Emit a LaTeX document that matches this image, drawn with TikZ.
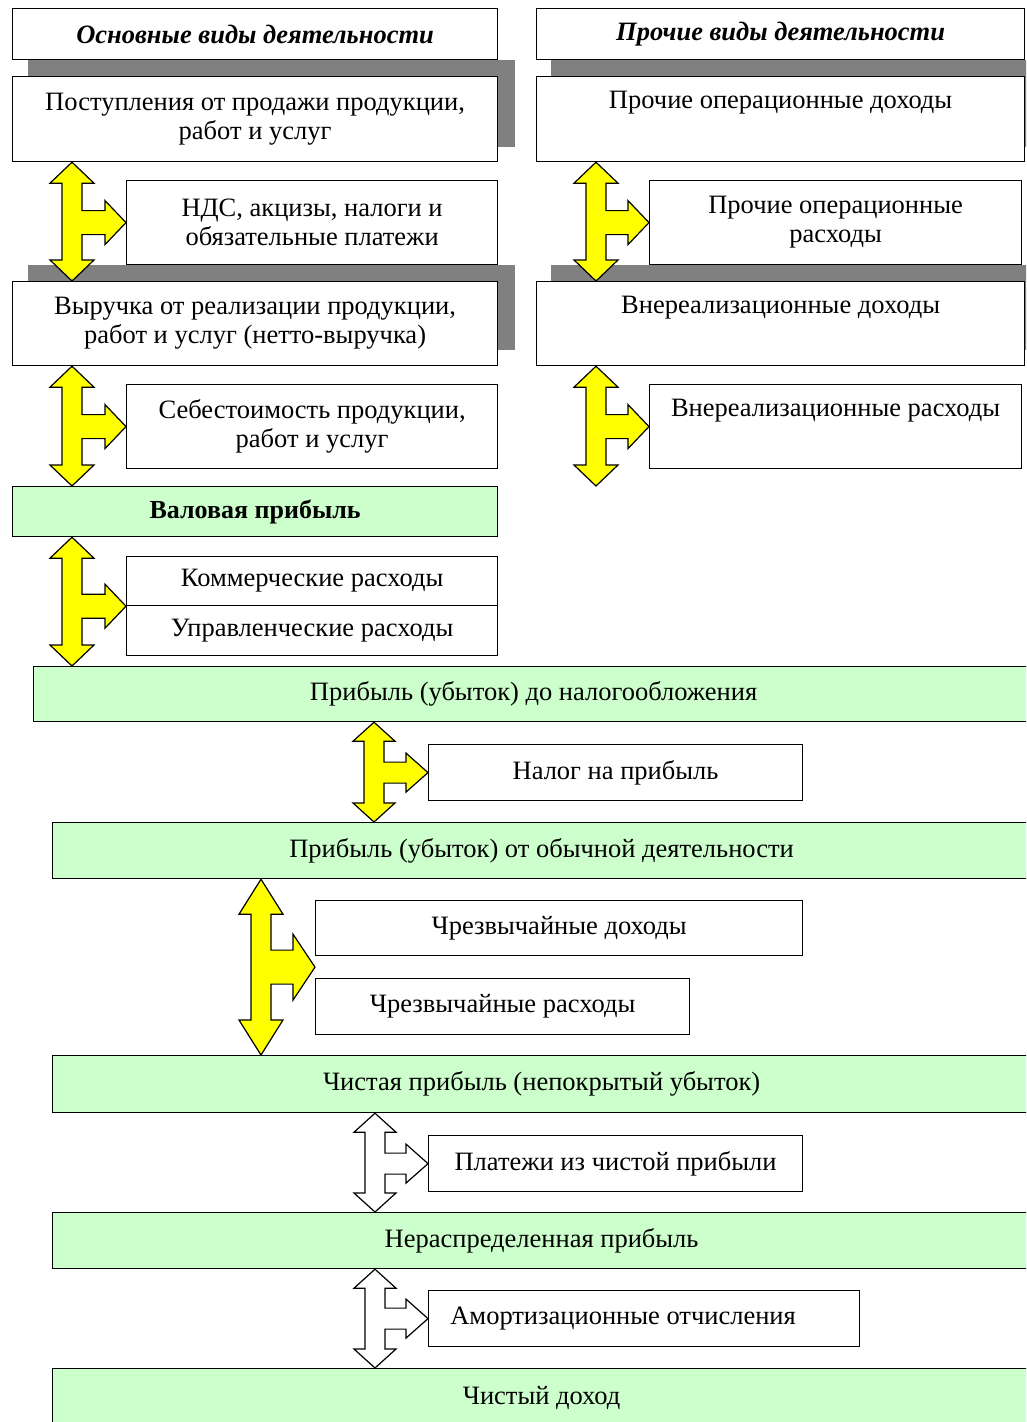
\documentclass[tikz,border=0pt]{standalone}
\usepackage{fontspec}
\setmainfont{Liberation Serif}
\usetikzlibrary{calc}
\definecolor{pgreen}{HTML}{CCFFCC}
\definecolor{pyellow}{HTML}{FFFF00}
\definecolor{shgray}{HTML}{808080}
\newcommand\bodyfont{\fontsize{26.5}{29}\selectfont}
\newcommand\hdrfont{\fontsize{26.5}{29}\selectfont\bfseries\itshape}
\newcommand\tparams[6]{\def\Thl{#1pt}\def\Thw{#2pt}\def\Tsw{#3pt}\def\Tbh{#4pt}\def\Trh{#5pt}\def\Trl{#6pt}}
\newcommand\triarrow[5]{%
 \path[#1] let \p1=(#3), \p2=(#4), \p3=(#5) in
 (#2pt,\y1) -- ({#2pt+\Thw},{\y1-\Thl}) -- ({#2pt+\Tsw},{\y1-\Thl}) -- ({#2pt+\Tsw},{\y3+\Tbh})
 -- ({\x3-\Trl},{\y3+\Tbh}) -- ({\x3-\Trl},{\y3+\Trh}) -- (\x3,\y3) -- ({\x3-\Trl},{\y3-\Trh})
 -- ({\x3-\Trl},{\y3-\Tbh}) -- ({#2pt+\Tsw},{\y3-\Tbh}) -- ({#2pt+\Tsw},{\y2+\Thl}) -- ({#2pt+\Thw},{\y2+\Thl})
 -- (#2pt,\y2) -- ({#2pt-\Thw},{\y2+\Thl}) -- ({#2pt-\Tsw},{\y2+\Thl}) -- ({#2pt-\Tsw},{\y1-\Thl})
 -- ({#2pt-\Thw},{\y1-\Thl}) -- cycle;}
\tikzset{
 box/.style={draw=black, line width=1.2pt, fill=white, align=center, inner sep=0pt, font=\bodyfont, anchor=north west},
 gbox/.style={box, fill=pgreen},
 hdrbox/.style={box, font=\hdrfont},
 yarrow/.style={draw=black, line width=1.2pt, fill=pyellow, line join=miter},
 warrow/.style={yarrow, fill=white},
 shadowrect/.style={fill=shgray},
}
\begin{document}
\begin{tikzpicture}[x=1pt,y=-1pt]
\useasboundingbox (0,0) rectangle (1026,1422);
\clip (0,0) rectangle (1026,1422);
% shadows
\fill[shadowrect] (28,60) rectangle (515,147);
\fill[shadowrect] (28,265) rectangle (515,350);
\fill[shadowrect] (551,60) rectangle (1030,147);
\fill[shadowrect] (551,265) rectangle (1030,350);
% left column
\node[hdrbox, minimum width=485pt, minimum height=51pt] (hdrA) at (12,8) {Основные виды деятельности};
\node[box, minimum width=485pt, minimum height=85pt] (post) at (12,76) {Поступления от продажи продукции,\\работ и услуг};
\node[box, minimum width=371pt, minimum height=84pt] (ndc) at (126,180) {НДС, акцизы, налоги и\\обязательные платежи};
\node[box, minimum width=485pt, minimum height=84pt] (vyr) at (12,281) {Выручка от реализации продукции,\\работ и услуг (нетто-выручка)};
\node[box, minimum width=371pt, minimum height=84pt] (seb) at (126,384) {Себестоимость продукции,\\работ и услуг};
\node[gbox, minimum width=485pt, minimum height=50pt, font=\fontsize{26}{29}\selectfont\bfseries] (val) at (12,486) {Валовая прибыль};
\node[box, minimum width=371pt, minimum height=49pt] (komm) at (126,556) {Коммерческие расходы};
\node[box, minimum width=371pt, minimum height=50pt] (upr) at (126,605) {Управленческие расходы};
% right column
\node[hdrbox, minimum width=488pt, minimum height=51pt] (hdrB) at (536,8) {Прочие виды деятельности};
\node[box, minimum width=488pt, minimum height=85pt] (pod) at (536,76) {Прочие операционные доходы\\\strut};
\node[box, minimum width=372pt, minimum height=84pt] (por) at (649,180) {Прочие операционные\\расходы};
\node[box, minimum width=488pt, minimum height=84pt] (vnd) at (536,281) {Внереализационные доходы\\\strut};
\node[box, minimum width=372pt, minimum height=84pt] (vnr) at (649,384) {Внереализационные расходы\\\strut};
\coordinate (vend) at (596,486);
% lower part
\node[gbox, minimum width=1000pt, minimum height=55pt] (pdo) at (33,666) {Прибыль (убыток) до налогообложения};
\node[box, minimum width=374pt, minimum height=56pt] (nal) at (428,744) {Налог на прибыль};
\node[gbox, minimum width=978pt, minimum height=56pt] (pob) at (52,822) {Прибыль (убыток) от обычной деятельности};
\node[box, minimum width=487pt, minimum height=55pt] (chd) at (315,900) {Чрезвычайные доходы};
\node[box, minimum width=374pt, minimum height=56pt] (chr) at (315,978) {Чрезвычайные расходы};
\coordinate (chmid) at ($(chd.south west)!0.5!(chr.north west)$);
\node[gbox, minimum width=978pt, minimum height=57pt] (chp) at (52,1055) {Чистая прибыль (непокрытый убыток)};
\node[box, minimum width=374pt, minimum height=56pt] (plat) at (428,1135) {Платежи из чистой прибыли};
\node[gbox, minimum width=978pt, minimum height=56pt] (nerasp) at (52,1212) {Нераспределенная прибыль};
\node[box, minimum width=431pt, minimum height=56pt] (amort) at (428,1290) {\hspace*{-42pt}Амортизационные отчисления};
\node[gbox, minimum width=978pt, minimum height=58pt] (chdo) at (52,1368) {Чистый доход};
% arrows
\tparams{21}{22}{10}{12}{22}{21}
\triarrow{yarrow}{72}{post.south}{vyr.north}{ndc.west}
\triarrow{yarrow}{72}{vyr.south}{val.north}{seb.west}
\triarrow{yarrow}{72}{val.south}{pdo.north}{komm.south west}
\triarrow{yarrow}{596}{pod.south}{vnd.north}{por.west}
\triarrow{yarrow}{596}{vnd.south}{vend}{vnr.west}
\tparams{19}{21}{10}{10.5}{19.5}{22}
\triarrow{yarrow}{374}{pdo.south}{pob.north}{nal.west}
\triarrow{warrow}{375}{chp.south}{nerasp.north}{plat.west}
\triarrow{warrow}{375}{nerasp.south}{chdo.north}{amort.west}
\tparams{35}{22}{10}{17}{33}{22}
\triarrow{yarrow}{261}{pob.south}{chp.north}{chmid}
\end{tikzpicture}
\end{document}
